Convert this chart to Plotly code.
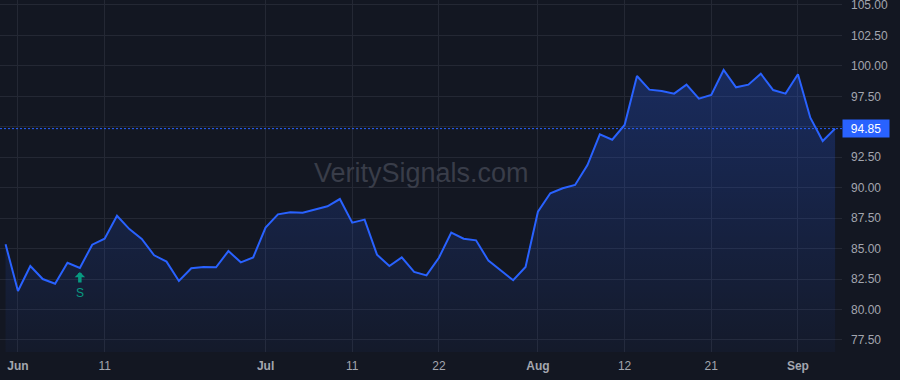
import plotly.graph_objects as go

# ---- data (US trading days, 2025) ----
dates = [
    "2025-05-30",
    "2025-06-02", "2025-06-03", "2025-06-04", "2025-06-05", "2025-06-06",
    "2025-06-09", "2025-06-10", "2025-06-11", "2025-06-12", "2025-06-13",
    "2025-06-16", "2025-06-17", "2025-06-18", "2025-06-20",
    "2025-06-23", "2025-06-24", "2025-06-25", "2025-06-26", "2025-06-27",
    "2025-06-30", "2025-07-01", "2025-07-02", "2025-07-03",
    "2025-07-07", "2025-07-08", "2025-07-09", "2025-07-10", "2025-07-11",
    "2025-07-14", "2025-07-15", "2025-07-16", "2025-07-17", "2025-07-18",
    "2025-07-21", "2025-07-22", "2025-07-23", "2025-07-24", "2025-07-25",
    "2025-07-28", "2025-07-29", "2025-07-30", "2025-07-31", "2025-08-01",
    "2025-08-04", "2025-08-05", "2025-08-06", "2025-08-07", "2025-08-08",
    "2025-08-11", "2025-08-12", "2025-08-13", "2025-08-14", "2025-08-15",
    "2025-08-18", "2025-08-19", "2025-08-20", "2025-08-21", "2025-08-22",
    "2025-08-25", "2025-08-26", "2025-08-27", "2025-08-28", "2025-08-29",
    "2025-09-02", "2025-09-03", "2025-09-04", "2025-09-05",
]
values = [
    85.35,
    81.52, 83.57, 82.50, 82.12, 83.84,
    83.41, 85.32, 85.81, 87.70, 86.60,
    85.79, 84.45, 83.93, 82.34,
    83.38, 83.49, 83.46, 84.80, 83.87,
    84.28, 86.72, 87.81, 87.98,
    87.95, 88.22, 88.47, 89.07, 87.13,
    87.38, 84.50, 83.57, 84.28, 83.08,
    82.80, 84.25, 86.31, 85.81, 85.68,
    84.01, 83.24, 82.40, 83.49, 88.03,
    89.54, 89.95, 90.22, 91.86, 94.38,
    93.94, 95.15, 99.17, 98.05, 97.94,
    97.72, 98.46, 97.31, 97.61, 99.66,
    98.24, 98.46, 99.36, 98.02, 97.72,
    99.31, 95.75, 93.83, 94.85,
]
tick_dates = ["2025-06-02", "2025-06-11", "2025-07-01", "2025-07-11", "2025-07-22",
              "2025-08-01", "2025-08-12", "2025-08-21", "2025-09-02"]
tick_text = ["<b>Jun</b>", "11", "<b>Jul</b>", "11", "22",
             "<b>Aug</b>", "12", "21", "<b>Sep</b>"]
y_ticks = [77.5, 80.0, 82.5, 85.0, 87.5, 90.0, 92.5, 95.0, 97.5, 100.0, 102.5, 105.0]
last_price = 94.85
signal_date = "2025-06-09"
signal_label = "S"
watermark = "VeritySignals.com"

BG = "#131722"
GRID = "#242834"
BLUE = "#2962FF"
GREEN = "#089981"
TXT = "#a3a6af"

fig = go.Figure()
fig.add_trace(go.Scatter(
    x=dates, y=values, mode="lines",
    line=dict(color=BLUE, width=2),
    fill="tozeroy",
    fillgradient=dict(type="vertical",
                      colorscale=[[0, "rgba(41,98,255,0.04)"], [1, "rgba(41,98,255,0.27)"]],
                      start=76.5, stop=99.7),
    hoverinfo="skip",
))

fig.add_shape(type="line", xref="paper", x0=0, x1=1, yref="y", y0=last_price, y1=last_price,
              line=dict(color=BLUE, width=1, dash="2px,2px"), layer="above")

fig.add_annotation(x=1, xref="paper", xanchor="left", y=last_price, yref="y",
                   text=f"{last_price:.2f}", showarrow=False, bgcolor=BLUE,
                   font=dict(color="white", size=12), width=42, height=13, borderpad=2)

sig_val = values[dates.index(signal_date)]
fig.add_annotation(x=signal_date, y=sig_val, text=signal_label, showarrow=True,
                   ax=0, ay=25, axref="pixel", ayref="pixel",
                   arrowhead=1, arrowsize=0.5, arrowwidth=3.5, arrowcolor=GREEN,
                   standoff=4, startstandoff=2,
                   font=dict(color=GREEN, size=12))

fig.add_annotation(x=0.5, xref="paper", y=0.508, yref="paper", text=watermark,
                   showarrow=False, font=dict(color="#393d49", size=27))

fig.update_layout(
    width=900, height=380,
    margin=dict(l=0, r=58, t=0, b=28),
    paper_bgcolor=BG, plot_bgcolor=BG, showlegend=False,
    font=dict(family="Liberation Sans, Arial, sans-serif", size=12, color=TXT),
    xaxis=dict(type="category", categoryorder="array", categoryarray=dates,
               range=[-0.45, 67.56], tickvals=tick_dates, ticktext=tick_text,
               showgrid=True, gridcolor=GRID, gridwidth=1, zeroline=False, showline=False,
               ticks="", ticklabelstandoff=5, automargin=False, fixedrange=True),
    yaxis=dict(side="right", range=[76.51, 105.41], tickvals=y_ticks, tickformat=".2f",
               showgrid=True, gridcolor=GRID, gridwidth=1, zeroline=False, showline=False,
               ticks="", ticklabelstandoff=8, ticklabeloverflow="allow",
               automargin=False, fixedrange=True),
)

fig.write_html("out.html")
